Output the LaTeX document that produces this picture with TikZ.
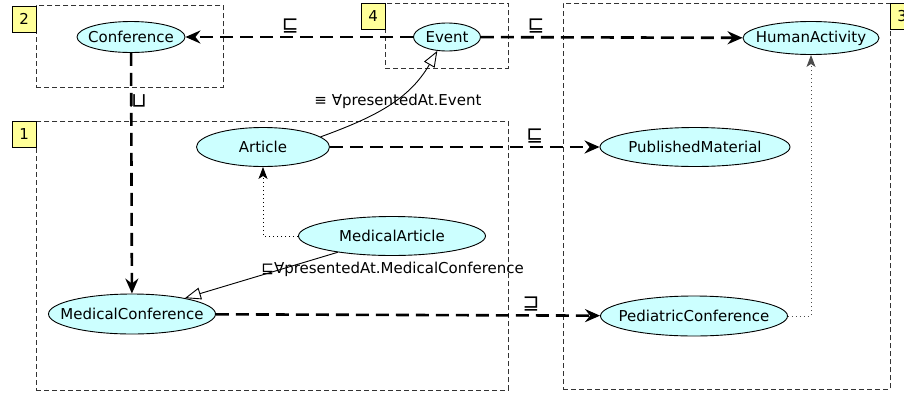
\documentclass[tikz,border=0pt]{standalone}
\usepackage{fontspec}
\setmainfont{DejaVu Sans}
\usetikzlibrary{shapes.geometric,arrows.meta}
\definecolor{conceptfill}{HTML}{CCFFFF}
\definecolor{tagfill}{HTML}{FFFF99}
\newcommand{\cname}[1]{\makebox[0pt]{#1}}
\tikzset{
  concept/.style={ellipse, draw, fill=conceptfill, inner sep=0pt, line width=0.9pt},
  group/.style={rectangle, draw=black!80, dash pattern=on 5pt off 3pt, line width=0.9pt, inner sep=0pt, anchor=north west},
  tag/.style={rectangle, draw, fill=tagfill, minimum width=24pt, minimum height=26pt, inner sep=0pt, anchor=north west},
  subsum/.style={line width=2.6pt, dash pattern=on 13pt off 7pt, -{Stealth[length=15pt,width=13pt,inset=5pt]}},
  restrict/.style={line width=0.9pt, -{Triangle[open,length=16pt,width=12pt]}},
  inherit/.style={line width=0.9pt, dash pattern=on 1pt off 3pt, -{Stealth[length=12pt,width=9pt,inset=3pt]}},
  rel/.style={font=\fontsize{20}{20}\selectfont, inner sep=1pt},
}

\begin{document}
\begin{tikzpicture}[x=1pt, y=-1pt, font=\fontsize{15}{18}\selectfont]
				\useasboundingbox (0,0) rectangle (904,394);
				% groups
				\node[group, minimum width=472pt, minimum height=269pt] (G1) at (36,121) {};
				\node[group, minimum width=187pt, minimum height=82pt] (G2) at (36,5) {};
				\node[group, minimum width=327pt, minimum height=386pt] (G3) at (563,3) {};
				\node[group, minimum width=123pt, minimum height=65pt] (G4) at (385,3) {};
				\node[tag] (T1) at (12,121) {1};
				\node[tag] (T2) at (12,6) {2};
				\node[tag] (T3) at (890,3) {3};
				\node[tag] (T4) at (361,3) {4};
				
				% concepts
				\node[concept, minimum width=108pt, minimum height=31pt] (Conf) at (131,37) {\cname{Conference}};
				\node[concept, minimum width=67pt, minimum height=28pt] (Event) at (447,37) {\cname{Event}};
				\node[concept, minimum width=136pt, minimum height=33pt] (HumAct) at (811,38) {\cname{HumanActivity}};
				\node[concept, minimum width=133pt, minimum height=39pt] (Article) at (263,147) {\cname{Article}};
				\node[concept, minimum width=190pt, minimum height=39pt] (PubMat) at (695,147) {\cname{PublishedMaterial}};
				\node[concept, minimum width=187pt, minimum height=39pt] (MedArt) at (392,236) {\cname{MedicalArticle}};
				\node[concept, minimum width=167pt, minimum height=40pt] (MedConf) at (132,314) {\cname{MedicalConference}};
				\node[concept, minimum width=187pt, minimum height=40pt] (PedConf) at (694,316) {\cname{PediatricConference}};
				
				% links
				\draw[subsum] (Event) -- (Conf) node[rel, pos=0.54, above=2pt] {⊑};
				\draw[subsum] (Event) -- (HumAct) node[rel, pos=0.21, above=2pt] {⊑};
				\draw[subsum] (Article) -- (PubMat) node[rel, pos=0.76, above=2pt] {⊑};
				\draw[subsum] (MedConf) -- (PedConf) node[rel, pos=0.82, above=2pt] {⊒};
				\draw[subsum] (Conf) -- (MedConf) node[rel, pos=0.2, xshift=7pt, rotate=-90] {⊒};
				\draw[restrict] (Article.10) to[out=20, in=-120] node[pos=0.55, xshift=4pt] {≡ ∀presentedAt.Event} (Event.-125);
				\draw[restrict] (MedArt) -- (MedConf) node[pos=0.38, anchor=west, xshift=-22pt] {⊑∀presentedAt.MedicalConference};
				\draw[inherit] (MedArt) -| (Article);
				\draw[inherit, draw=black!70] (PedConf) -| (HumAct);
			\end{tikzpicture}
\end{document}
